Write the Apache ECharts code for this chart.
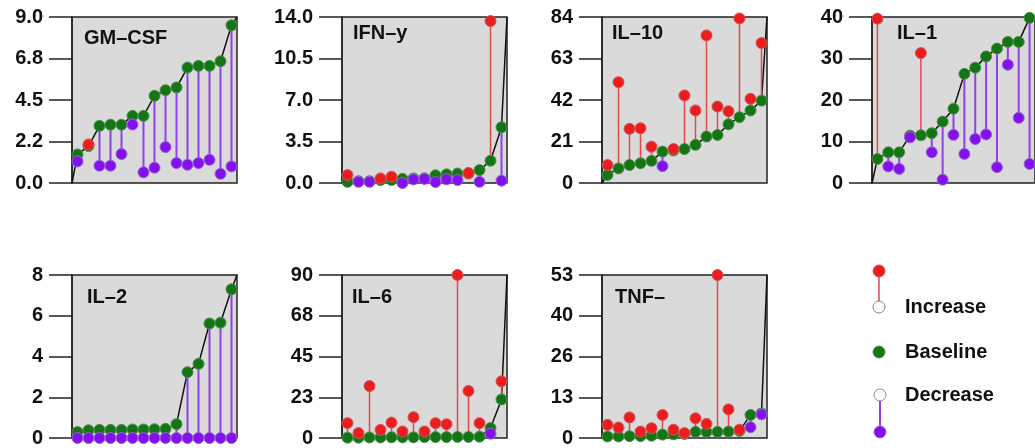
<!DOCTYPE html>
<html>
<head>
<meta charset="utf-8">
<script src="https://cdn.jsdelivr.net/npm/echarts@6/dist/echarts.min.js"></script>
<style>
  html, body { margin: 0; padding: 0; background: #fff; }
  #main { width: 1035px; height: 448px; }
</style>
</head>
<body>
<div id="main"></div>
<script>
// sample positions (sorted by baseline)
const positions = [1, 2, 3, 4, 5, 6, 7, 8, 9, 10, 11, 12, 13, 14, 15];

// GM-CSF
const gmcsfBase = [1.55, 2.0, 3.1, 3.16, 3.16, 3.64, 3.64, 4.73, 5.03, 5.18, 6.26, 6.35, 6.35, 6.6, 8.55];
const gmcsfAfter = [1.17, 2.09, 0.94, 0.94, 1.57, 3.17, 0.58, 0.83, 1.95, 1.08, 0.99, 1.08, 1.26, 0.5, 0.9];
const gmcsfTicks = ["0.0", "2.2", "4.5", "6.8", "9.0"];

// IFN-y
const ifnBase = [0.1, 0.15, 0.15, 0.25, 0.25, 0.35, 0.38, 0.4, 0.65, 0.73, 0.8, 0.8, 1.09, 1.88, 4.7];
const ifnAfter = [0.67, 0.1, 0.1, 0.39, 0.53, 0.0, 0.3, 0.34, 0.08, 0.31, 0.25, 0.85, 0.1, 13.66, 0.2];
const ifnTicks = ["0.0", "3.5", "7.0", "10.5", "14.0"];

// IL-10
const il10Base = [4.1, 7.4, 9.1, 10.0, 11.2, 15.9, 16.5, 17.2, 19.3, 23.5, 24.3, 29.7, 33.3, 36.7, 41.7];
const il10After = [9.1, 51.0, 27.4, 27.7, 18.4, 8.5, 17.2, 44.3, 36.7, 74.7, 38.7, 36.3, 83.3, 42.6, 70.8];
const il10Ticks = ["0", "21", "42", "63", "84"];

// IL-1
const il1Base = [5.8, 7.4, 7.4, 11.4, 11.5, 12.0, 14.8, 17.9, 26.3, 27.8, 30.5, 32.4, 34.0, 34.0, 39.8];
const il1After = [39.6, 4.0, 3.4, 11.0, 31.3, 7.4, 0.8, 11.6, 7.0, 10.6, 11.7, 3.8, 28.5, 15.7, 4.6];
const il1Ticks = ["0", "10", "20", "30", "40"];

// IL-2
const il2Base = [0.29, 0.38, 0.4, 0.4, 0.4, 0.42, 0.42, 0.43, 0.45, 0.68, 3.23, 3.64, 5.62, 5.66, 7.3];
const il2After = [0, 0, 0, 0, 0, 0, 0, 0, 0, 0, 0, 0, 0, 0, 0];
const il2Ticks = ["0", "2", "4", "6", "8"];

// IL-6
const il6Base = [0.2, 0.2, 0.3, 0.3, 0.4, 0.4, 0.4, 0.5, 0.5, 0.5, 0.6, 0.6, 0.7, 5.5, 21.3];
const il6After = [8.2, 2.7, 28.7, 4.5, 8.5, 3.6, 11.5, 3.6, 8.2, 7.6, 90, 26.0, 8.2, 2.4, 31.3];
const il6Ticks = ["0", "23", "45", "68", "90"];

// TNF-
const tnfBase = [0.5, 0.5, 0.6, 0.6, 0.75, 1.1, 1.2, 1.3, 2.0, 2.0, 2.0, 2.1, 2.3, 7.5, 8.0];
const tnfAfter = [4.3, 3.4, 6.7, 2.1, 3.2, 7.5, 2.7, 1.6, 6.4, 4.6, 53, 9.3, 2.7, 3.5, 7.7];
const tnfTicks = ["0", "13", "26", "40", "53"];

const panels = [
  { name: "GM–CSF", base: gmcsfBase, after: gmcsfAfter, ticks: gmcsfTicks, max: 9, left: 72, top: 17, h: 166, tl: 84, tt: 28 },
  { name: "IFN–y", base: ifnBase, after: ifnAfter, ticks: ifnTicks, max: 14, left: 342, top: 17, h: 166, tl: 353, tt: 23 },
  { name: "IL–10", base: il10Base, after: il10After, ticks: il10Ticks, max: 84, left: 602, top: 17, h: 166, tl: 612, tt: 23 },
  { name: "IL–1", base: il1Base, after: il1After, ticks: il1Ticks, max: 40, left: 872, top: 17, h: 166, tl: 897, tt: 23 },
  { name: "IL–2", base: il2Base, after: il2After, ticks: il2Ticks, max: 8, left: 72, top: 275, h: 165, tl: 87, tt: 287 },
  { name: "IL–6", base: il6Base, after: il6After, ticks: il6Ticks, max: 90, left: 342, top: 275, h: 165, tl: 352, tt: 287 },
  { name: "TNF–", base: tnfBase, after: tnfAfter, ticks: tnfTicks, max: 53, left: 602, top: 275, h: 165, tl: 615, tt: 287 }
];

const RED = "#ee1c1c", GREEN = "#137513", PURPLE = "#8311ee";
const FONT = "Liberation Sans";
const textStyle = { fontFamily: FONT, fontWeight: "bold", fontSize: 20, color: "#111" };

var grid = [], xAxis = [], yAxis = [], series = [], title = [];

panels.forEach(function (p, i) {
  grid.push({
    left: p.left, top: p.top, width: 165, height: p.h,
    show: true, backgroundColor: "#dadada", borderColor: "#222", borderWidth: 1.5
  });
  xAxis.push({ gridIndex: i, type: "value", min: 0.5, max: 15.5, show: false });
  yAxis.push({
    gridIndex: i, type: "value", min: 0, max: p.max, interval: p.max / 4,
    axisLine: { show: true, lineStyle: { color: "#222", width: 1.5 } },
    axisTick: { show: true, length: 23, lineStyle: { color: "#222", width: 1.5 } },
    splitLine: { show: false },
    axisLabel: Object.assign({
      margin: 29,
      formatter: function (v) { return p.ticks[Math.round(v / (p.max / 4))]; }
    }, textStyle)
  });
  title.push({ text: p.name, left: p.tl, top: p.tt, padding: 0, textStyle: textStyle });

  // black line through sorted baseline, from bottom-left to top-right corner
  var lineData = [[0.5, 0]];
  positions.forEach(function (x, k) { lineData.push([x, p.base[k]]); });
  lineData.push([15.5, p.max]);
  series.push({
    type: "line", xAxisIndex: i, yAxisIndex: i, data: lineData, symbol: "none",
    lineStyle: { color: "#111", width: 1.5 }, z: 2, silent: true
  });

  // stems
  series.push({
    type: "custom", xAxisIndex: i, yAxisIndex: i, z: 3, silent: true,
    data: positions.map(function (x, k) { return [x, p.base[k], p.after[k]]; }),
    renderItem: function (params, api) {
      var a = api.coord([api.value(0), api.value(1)]);
      var b = api.coord([api.value(0), api.value(2)]);
      var up = api.value(2) > api.value(1);
      return {
        type: "line",
        shape: { x1: a[0], y1: a[1], x2: b[0], y2: b[1] },
        style: { stroke: up ? "#e8474a" : "#9040e8", lineWidth: up ? 1.5 : 2 }
      };
    }
  });

  // baseline points
  series.push({
    type: "scatter", xAxisIndex: i, yAxisIndex: i, z: 4, clip: false, symbolSize: 11,
    data: positions.map(function (x, k) { return [x, p.base[k]]; }),
    itemStyle: { color: GREEN, borderColor: "#4f8f4f", borderWidth: 1, opacity: 1 }
  });

  // follow-up points, red for increase, purple for decrease
  series.push({
    type: "scatter", xAxisIndex: i, yAxisIndex: i, z: 5, clip: false, symbolSize: 11,
    data: positions.filter(function (x, k) { return p.after[k] > p.base[k]; })
      .map(function (x) { return [x, p.after[x - 1]]; }),
    itemStyle: { color: RED, borderColor: "#c85a5a", borderWidth: 1, opacity: 1 }
  });
  series.push({
    type: "scatter", xAxisIndex: i, yAxisIndex: i, z: 5, clip: false, symbolSize: 11,
    data: positions.filter(function (x, k) { return p.after[k] <= p.base[k]; })
      .map(function (x) { return [x, p.after[x - 1]]; }),
    itemStyle: { color: PURPLE, borderColor: "#9a62d6", borderWidth: 1, opacity: 1 }
  });
});

// legend drawn by hand
var legendText = { fontFamily: FONT, fontWeight: "bold", fontSize: 20, fill: "#111", verticalAlign: "middle" };
var graphic = [
  { type: "line", shape: { x1: 879, y1: 271, x2: 879, y2: 303 }, style: { stroke: "#e8474a", lineWidth: 1.5 } },
  { type: "circle", shape: { cx: 879, cy: 271, r: 6 }, style: { fill: RED, stroke: "#c85a5a", lineWidth: 1 } },
  { type: "circle", shape: { cx: 879, cy: 307, r: 6 }, style: { fill: "#fff", stroke: "#888", lineWidth: 1 } },
  { type: "text", x: 905, y: 307, style: Object.assign({ text: "Increase" }, legendText) },
  { type: "circle", shape: { cx: 879, cy: 352, r: 6 }, style: { fill: GREEN, stroke: "#4f8f4f", lineWidth: 1 } },
  { type: "text", x: 905, y: 352, style: Object.assign({ text: "Baseline" }, legendText) },
  { type: "line", shape: { x1: 880, y1: 399, x2: 880, y2: 432 }, style: { stroke: "#9040e8", lineWidth: 2 } },
  { type: "circle", shape: { cx: 880, cy: 395, r: 6 }, style: { fill: "#fff", stroke: "#888", lineWidth: 1 } },
  { type: "circle", shape: { cx: 880, cy: 432, r: 6 }, style: { fill: PURPLE, stroke: "#9a62d6", lineWidth: 1 } },
  { type: "text", x: 905, y: 395, style: Object.assign({ text: "Decrease" }, legendText) }
];

var chart = echarts.init(document.getElementById("main"));
chart.setOption({
  animation: false,
  backgroundColor: "#fff",
  title: title,
  grid: grid,
  xAxis: xAxis,
  yAxis: yAxis,
  series: series,
  graphic: graphic
});
</script>
</body>
</html>
